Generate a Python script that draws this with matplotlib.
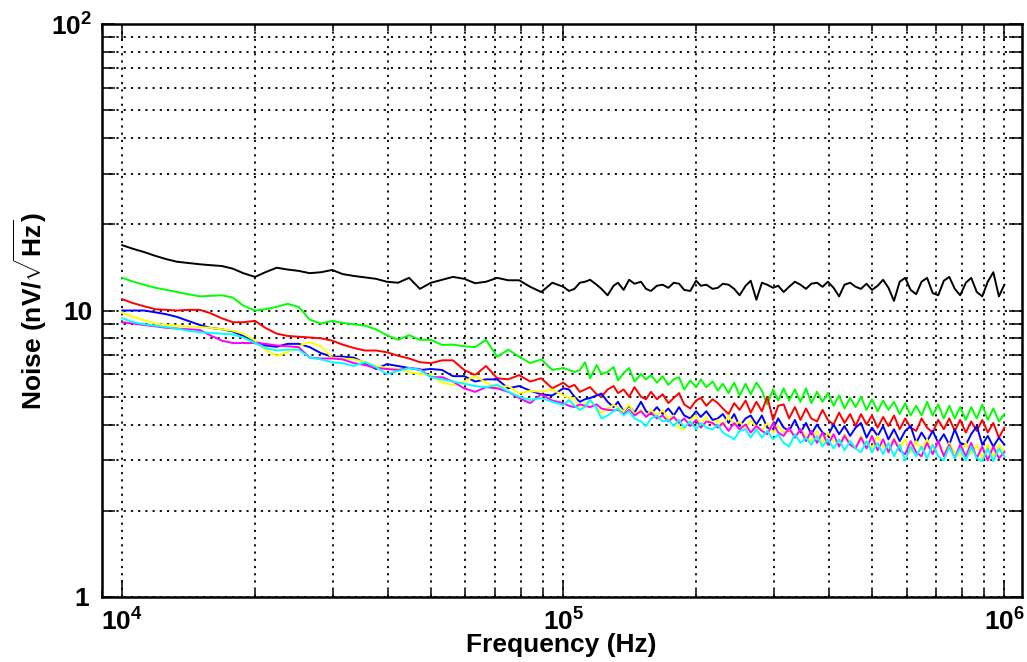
import numpy as np
import matplotlib
matplotlib.use("Agg")
import matplotlib.pyplot as plt
from matplotlib.ticker import LogLocator, NullFormatter
from matplotlib.transforms import ScaledTranslation

plt.rcParams['font.family'] = ['Liberation Sans', 'DejaVu Sans']
plt.rcParams['font.weight'] = 'bold'
plt.rcParams['mathtext.fontset'] = 'custom'
plt.rcParams['mathtext.rm'] = 'Liberation Sans:bold'
plt.rcParams['mathtext.bf'] = 'Liberation Sans:bold'

# frequency grid (kHz)
freq_lo_khz = [10, 10.6, 11.2, 11.9, 12.6, 13.3, 14.1, 15.0, 15.8, 16.8,
               17.8, 18.8, 20.0, 21.1, 22.4, 23.7, 25.1, 26.6, 28.2, 29.9,
               31.6, 33.5, 35.5, 37.6, 39.8, 42.2, 44.7, 47.3, 50.1, 53.1,
               56.2, 59.6, 63.1, 66.8, 70.8, 75.0, 79.4, 84.1, 89.1, 94.4]
freq_hi_khz = [100, 103, 106, 109, 112, 115, 119, 122, 126, 130,
               133, 137, 141, 145, 150, 154, 158, 163, 168, 173,
               178, 183, 188, 194, 200, 205, 211, 218, 224, 230,
               237, 244, 251, 259, 266, 274, 282, 290, 299, 307,
               316, 325, 335, 345, 355, 365, 376, 387, 398, 410,
               422, 434, 447, 460, 473, 487, 501, 516, 531, 546,
               562, 579, 596, 613, 631, 649, 668, 688, 708, 729,
               750, 772, 794, 818, 841, 866, 891, 917, 944, 972,
               1000]

# noise spectra (nV/sqrt(Hz)), low decade + high decade
black_lo = [16.9, 16.4, 16.0, 15.5, 15.1, 14.8, 14.65, 14.5, 14.4, 14.3,
            14.0, 13.5, 13.1, 13.6, 14.1, 13.9, 13.75, 13.5, 13.6, 13.85,
            13.4, 13.2, 13.05, 12.9, 12.6, 12.5, 13.0, 11.9, 12.5, 12.8,
            13.1, 12.9, 12.45, 12.6, 13.0, 12.75, 12.75, 12.1, 11.6, 12.5]
black_hi = [12.1, 11.7, 11.9, 12.5, 12.6, 12.8, 12.3, 11.9, 11.3, 12.2,
            12.5, 11.8, 12.8, 12.4, 12.6, 11.9, 11.7, 12.2, 12.3, 12.0,
            12.5, 12.4, 11.8, 11.7, 12.7, 12.2, 12.3, 11.9, 12.0, 12.4,
            12.3, 11.9, 11.3, 12.2, 12.7, 10.9, 12.5, 12.3, 12.0, 12.2,
            11.6, 12.1, 12.6, 12.3, 11.9, 12.4, 12.5, 12.1, 12.6, 12.0,
            11.2, 12.3, 12.5, 12.1, 11.9, 12.4, 11.8, 12.2, 12.8, 12.0,
            10.8, 12.6, 13.0, 11.8, 11.4, 12.6, 13.0, 11.5, 11.3, 12.7,
            13.1, 11.9, 11.3, 12.5, 13.0, 11.6, 11.2, 12.6, 13.6, 11.2,
            12.3]

green_lo = [13.0, 12.6, 12.3, 12.0, 11.8, 11.6, 11.4, 11.2, 11.25, 11.3,
            11.1, 10.4, 10.0, 10.1, 10.3, 10.55, 10.3, 9.3, 9.0, 9.2,
            9.05, 8.95, 8.85, 8.6, 8.2, 7.9, 8.2, 7.9, 7.9, 7.58,
            7.6, 7.5, 7.45, 7.9, 6.9, 7.3, 6.9, 6.55, 6.75, 6.2]
green_hi = [6.3, 6.2, 6.1, 6.2, 6.6, 5.8, 6.45, 6.0, 6.1, 6.35,
            5.7, 6.05, 6.3, 5.65, 6.0, 5.75, 5.95, 5.6, 5.9, 5.5,
            5.75, 5.85, 5.3, 5.7, 5.4, 5.75, 5.4, 5.65, 5.25, 5.55,
            5.15, 5.6, 5.05, 5.55, 5.1, 5.6, 5.25, 4.7, 5.3, 4.85,
            5.35, 4.85, 5.3, 4.8, 5.35, 4.75, 5.2, 4.8, 5.15, 4.65,
            5.05, 4.55, 4.95, 4.6, 5.0, 4.5, 4.9, 4.45, 4.85, 4.5,
            4.8, 4.35, 4.75, 4.3, 4.65, 4.3, 4.8, 4.3, 4.7, 4.2,
            4.65, 4.2, 4.6, 4.15, 4.6, 4.2, 4.7, 4.15, 4.55, 4.1,
            4.35]

red_lo = [10.95, 10.6, 10.35, 10.1, 10.05, 10.0, 10.05, 10.05, 9.8, 9.4,
          9.1, 9.1, 9.2, 8.7, 8.3, 8.15, 8.1, 8.05, 8.0, 7.85,
          7.6, 7.4, 7.25, 7.25, 7.15, 6.95, 6.8, 6.6, 6.55, 6.7,
          6.7, 6.2, 5.95, 6.4, 5.8, 5.75, 5.95, 5.65, 5.8, 5.35]
red_hi = [5.6, 5.4, 5.5, 5.2, 5.3, 5.4, 5.1, 5.0, 5.3, 5.45,
          5.15, 5.3, 5.0, 5.4, 5.0, 4.9, 5.2, 4.9, 5.1, 4.75,
          4.95, 5.15, 4.7, 4.55, 4.85, 4.95, 4.65, 4.9, 4.75, 4.55,
          4.35, 4.75, 4.5, 4.85, 4.4, 4.8, 4.45, 5.0, 4.15, 4.65,
          4.7, 4.2, 4.6, 4.15, 4.55, 4.2, 4.1, 4.5, 4.15, 4.0,
          4.4, 4.05, 4.35, 3.95, 4.35, 4.0, 4.3, 3.9, 4.25, 3.95,
          4.3, 3.85, 4.2, 3.9, 3.8, 4.2, 3.9, 3.75, 4.15, 3.85,
          4.2, 3.8, 4.15, 3.75, 4.1, 3.8, 4.15, 3.75, 4.05, 3.6,
          3.9]

blue_lo = [10.0, 10.0, 10.0, 9.85, 9.7, 9.5, 9.2, 8.9, 8.7, 8.6,
           8.45, 8.15, 7.8, 7.55, 7.47, 7.65, 7.65, 7.45, 7.1, 6.9,
           6.9, 6.85, 6.55, 6.25, 6.5, 6.4, 6.3, 6.2, 6.25, 6.2,
           5.9, 5.9, 5.65, 5.75, 5.75, 5.35, 5.45, 5.25, 5.1, 5.05]
blue_hi = [5.35, 5.3, 5.0, 4.8, 4.9, 4.95, 5.05, 5.13, 4.8, 4.6,
           4.8, 4.45, 4.65, 4.4, 4.8, 4.45, 4.35, 4.6, 4.35, 4.55,
           4.3, 4.6, 4.3, 4.2, 4.45, 4.25, 4.45, 4.15, 4.2, 4.35,
           4.05, 4.35, 3.95, 4.2, 4.3, 4.0, 4.3, 3.9, 3.85, 4.2,
           3.9, 3.8, 4.15, 3.75, 4.05, 3.7, 4.0, 3.75, 3.65, 4.0,
           3.7, 3.95, 3.65, 3.9, 4.05, 3.6, 3.9, 3.65, 3.95, 3.55,
           3.85, 3.5, 3.8, 3.95, 3.45, 3.75, 3.5, 3.8, 3.45, 3.7,
           3.4, 3.85, 3.45, 3.4, 3.7, 3.95, 3.4, 3.65, 3.35, 3.6,
           3.4]

yellow_lo = [9.8, 9.5, 9.25, 9.0, 8.9, 8.85, 8.78, 8.75, 8.7, 8.6,
             8.5, 8.3, 7.85, 7.3, 6.95, 7.15, 7.5, 7.75, 7.5, 6.85,
             6.8, 6.75, 6.6, 6.4, 6.3, 6.25, 6.1, 6.0, 5.95, 5.6,
             5.5, 5.65, 5.9, 5.6, 5.4, 5.45, 5.15, 5.24, 5.2, 5.3]
yellow_hi = [5.05, 4.95, 4.95, 4.5, 4.7, 4.87, 4.6, 4.38, 4.55, 4.68,
             4.6, 4.45, 4.7, 4.35, 4.5, 4.25, 4.5, 4.3, 4.5, 4.2,
             4.3, 3.9, 3.85, 4.15, 4.3, 4.0, 4.25, 4.0, 4.15, 3.95,
             4.3, 3.95, 4.1, 3.85, 4.15, 3.9, 3.8, 4.05, 3.75, 3.95,
             3.75, 3.85, 3.6, 3.85, 3.65, 3.5, 3.8, 3.45, 3.75, 3.5,
             3.4, 3.7, 3.45, 3.35, 3.65, 3.4, 3.3, 3.65, 3.35, 3.25,
             3.6, 3.3, 3.55, 3.2, 3.5, 3.25, 3.55, 3.2, 3.5, 3.15,
             3.45, 3.2, 3.1, 3.45, 3.15, 3.4, 3.05, 3.4, 3.1, 3.4,
             3.2]

magenta_lo = [9.1, 9.0, 8.9, 8.8, 8.7, 8.65, 8.6, 8.55, 8.2, 7.85,
              7.7, 7.7, 7.7, 7.65, 7.55, 7.5, 7.45, 6.85, 6.8, 6.8,
              6.75, 6.55, 6.45, 6.3, 6.25, 6.2, 6.3, 6.25, 5.85, 5.85,
              5.65, 5.35, 5.2, 5.4, 5.35, 5.2, 4.95, 4.75, 5.1, 4.85]
magenta_hi = [4.75, 4.65, 4.6, 4.7, 4.65, 4.6, 4.7, 4.55, 4.5, 4.48,
              4.5, 4.35, 4.5, 4.3, 4.45, 4.25, 4.4, 4.2, 4.3, 4.1,
              4.25, 4.05, 4.2, 3.95, 4.15, 3.9, 4.1, 4.05, 3.9, 4.05,
              3.8, 4.05, 3.85, 4.0, 3.75, 3.95, 3.8, 3.7, 4.05, 3.75,
              3.65, 3.9, 3.6, 3.85, 3.5, 3.8, 3.45, 3.75, 3.4, 3.7,
              3.35, 3.65, 3.4, 3.3, 3.6, 3.3, 3.65, 3.25, 3.55, 3.2,
              3.55, 3.25, 3.15, 3.5, 3.2, 3.1, 3.45, 3.15, 3.5, 3.1,
              3.4, 3.05, 3.4, 3.1, 3.45, 3.05, 3.35, 3.0, 3.35, 3.05,
              3.2]

cyan_lo = [9.4, 9.1, 8.95, 8.85, 8.75, 8.65, 8.5, 8.4, 8.35, 8.3,
           8.25, 8.05, 7.7, 7.4, 7.25, 7.3, 7.3, 6.85, 6.75, 6.6,
           6.55, 6.4, 6.6, 6.35, 6.0, 6.15, 6.3, 6.2, 5.85, 5.75,
           5.65, 5.55, 5.45, 5.4, 5.5, 5.2, 5.0, 4.87, 4.95, 4.8]
cyan_hi = [4.68, 4.87, 4.65, 4.5, 4.6, 4.87, 4.55, 4.2, 4.3, 4.45,
           4.55, 4.3, 4.45, 4.2, 4.1, 3.95, 4.2, 4.3, 4.1, 4.15,
           3.95, 4.15, 3.9, 4.1, 3.85, 4.05, 3.9, 3.85, 4.0, 3.75,
           3.65, 3.55, 3.8, 3.85, 3.6, 3.85, 3.6, 3.8, 3.55, 3.7,
           3.45, 3.35, 3.7, 3.45, 3.6, 3.4, 3.65, 3.35, 3.55, 3.3,
           3.55, 3.25, 3.5, 3.3, 3.2, 3.5, 3.2, 3.45, 3.15, 3.45,
           3.1, 3.4, 3.0, 3.35, 3.1, 3.35, 3.05, 3.4, 3.1, 3.0,
           3.35, 3.05, 3.3, 3.0, 3.35, 3.05, 2.98, 3.3, 2.98, 3.3,
           3.1]

freq = np.array(freq_lo_khz + freq_hi_khz) * 1e3
series = [
    (black_lo + black_hi, '#000000'),
    (green_lo + green_hi, '#00ff00'),
    (red_lo + red_hi, '#ff0000'),
    (blue_lo + blue_hi, '#0000ff'),
    (yellow_lo + yellow_hi, '#ffff00'),
    (magenta_lo + magenta_hi, '#ff00ff'),
    (cyan_lo + cyan_hi, '#00ffff'),
]

fig = plt.figure(figsize=(10.27, 6.62), dpi=100)
ax = fig.add_axes([102 / 1027, 65 / 662, 920 / 1027, 573 / 662])

for vals, col in series:
    ax.plot(freq, vals, color=col, lw=1.4)

ax.set_xscale('log')
ax.set_yscale('log')
ax.set_xlim(10 ** 3.954, 10 ** 6.04)
ax.set_ylim(1, 100)

ax.set_xticks([1e4, 1e5, 1e6], [r'$\mathbf{10^{4}}$', r'$\mathbf{10^{5}}$', r'$\mathbf{10^{6}}$'])
ax.set_yticks([1, 10, 100], ['1', '10', r'$\mathbf{10^{2}}$'])
ax.xaxis.set_minor_locator(LogLocator(base=10, subs=np.arange(2, 10)))
ax.yaxis.set_minor_locator(LogLocator(base=10, subs=np.arange(2, 10)))
ax.xaxis.set_minor_formatter(NullFormatter())
ax.yaxis.set_minor_formatter(NullFormatter())

ax.grid(True, which='both', color='k', linestyle=(0, (1.2, 2.8)), lw=1.3)
ax.set_axisbelow(True)

ax.tick_params(which='both', direction='in', top=True, right=True, width=1.1, labelsize=19)
ax.tick_params(axis='x', which='major', length=12, pad=8)
ax.tick_params(axis='x', which='minor', length=5)
ax.tick_params(axis='y', which='both', length=9.5, pad=7)
for sp in ax.spines.values():
    sp.set_linewidth(1.8)

# "1" sits a little further left in the original
lab1 = ax.get_yticklabels()[0]
lab1.set_transform(lab1.get_transform() + ScaledTranslation(-2 / 72, 0, fig.dpi_scale_trans))

ax.set_xlabel('Frequency (Hz)', fontsize=19, fontweight='bold')
ax.xaxis.set_label_coords(0.499, -0.0838)
ax.xaxis.label.set_va('center')
ax.set_ylabel(r'Noise (nV/$\mathbf{\sqrt{Hz}}$)', fontsize=19, fontweight='bold')
ax.yaxis.set_label_coords(-0.078, 0.5)
ax.yaxis.label.set_va('center')

fig.savefig('out.png', dpi=100)
